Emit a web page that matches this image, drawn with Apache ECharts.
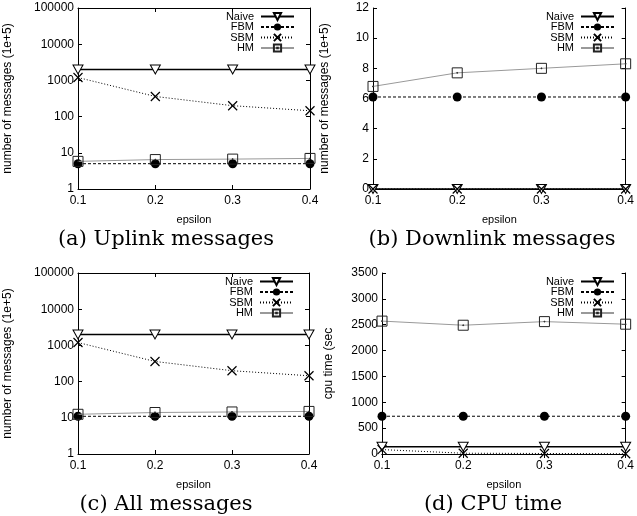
<!DOCTYPE html>
<html>
<head>
<meta charset="utf-8">
<script src="https://cdn.jsdelivr.net/npm/echarts@6/dist/echarts.min.js"></script>
<style>
  html, body { margin: 0; padding: 0; background: #fff; }
  #chart { width: 637px; height: 516px; }
</style>
</head>
<body>
<div id="chart"></div>
<script>
// x categories (epsilon)
const epsilon = ['0.1', '0.2', '0.3', '0.4'];
const seriesNames = ['Naive', 'FBM', 'SBM', 'HM'];

// (a) uplink messages (1e+5)
const upNaive = [2000, 2000, 2000, 2000];
const upFBM = [5, 5, 5, 5];
const upSBM = [1200, 360, 200, 145];
const upHM = [5.8, 6.5, 6.7, 7.0];

// (b) downlink messages (1e+5)
const downNaive = [0, 0, 0, 0];
const downFBM = [6.1, 6.1, 6.1, 6.1];
const downSBM = [0, 0, 0, 0];
const downHM = [6.8, 7.7, 8.0, 8.3];

// (c) all messages (1e+5)
const allNaive = [2000, 2000, 2000, 2000];
const allFBM = [11, 11, 11, 11];
const allSBM = [1200, 360, 200, 145];
const allHM = [12.5, 14, 14.5, 15];

// (d) cpu time (sec)
const cpuNaive = [140, 140, 140, 140];
const cpuFBM = [730, 730, 730, 730];
const cpuSBM = [85, 15, 10, 5];
const cpuHM = [2570, 2490, 2560, 2510];

const captions = ['(a) Uplink messages', '(b) Downlink messages', '(c) All messages', '(d) CPU time'];

const chart = echarts.init(document.getElementById('chart'));

// plot boxes
const grids = [
  { left: 78, top: 8, width: 232, height: 181 },
  { left: 373, top: 8, width: 257, height: 181 },
  { left: 78, top: 273, width: 231, height: 181 },
  { left: 382, top: 273, width: 248, height: 181 }
];
const captionX = [166, 492, 166, 493];

const yCfg = [
  { type: 'log', min: 1, max: 100000, name: 'number of messages (1e+5)', gap: 64 },
  { type: 'value', min: 0, max: 12, interval: 2, name: 'number of messages (1e+5)', gap: 42 },
  { type: 'log', min: 1, max: 100000, name: 'number of messages (1e+5)', gap: 64 },
  { type: 'value', min: 0, max: 3500, interval: 500, name: 'cpu time (sec', gap: 47 }
];

const panelData = [
  [upNaive, upFBM, upSBM, upHM],
  [downNaive, downFBM, downSBM, downHM],
  [allNaive, allFBM, allSBM, allHM],
  [cpuNaive, cpuFBM, cpuSBM, cpuHM]
];

const font = 'Liberation Sans, Arial, sans-serif';

// marker + line look per series
const looks = {
  Naive: {
    symbol: 'path://M0,0H10L5,9Z', symbolSize: [10, 9],
    itemStyle: { color: '#fff', borderColor: '#000', borderWidth: 1 },
    lineStyle: { color: '#000', width: 1.5, type: 'solid' }
  },
  FBM: {
    symbol: 'circle', symbolSize: 9,
    itemStyle: { color: '#000' },
    lineStyle: { color: '#000', width: 1, type: [3, 2] }
  },
  SBM: {
    symbol: 'path://M0,0L10,10M10,0L0,10', symbolSize: 9,
    itemStyle: { color: 'transparent', borderColor: '#000', borderWidth: 1.2 },
    lineStyle: { color: '#000', width: 1, type: [1, 2] }
  },
  HM: {
    symbol: 'path://M0,0H10V10H0Z M4.6,4.6H5.4V5.4H4.6Z', symbolSize: 10,
    itemStyle: { color: 'transparent', borderColor: '#222', borderWidth: 1 },
    lineStyle: { color: '#999', width: 1, type: 'solid' }
  }
};

const xAxis = [], yAxis = [], series = [], legend = [], title = [];

grids.forEach((g, i) => {
  xAxis.push({
    type: 'category', data: epsilon, gridIndex: i, boundaryGap: false,
    name: 'epsilon', nameLocation: 'middle', nameGap: 25,
    nameTextStyle: { fontFamily: font, fontSize: 11, color: '#000' },
    axisLine: { lineStyle: { color: '#000', width: 1 } },
    axisTick: { inside: true, length: 4, lineStyle: { color: '#000' } },
    axisLabel: { fontFamily: font, fontSize: 12, color: '#000', margin: 6 },
    splitLine: { show: false }
  });
  const y = yCfg[i];
  yAxis.push({
    type: y.type, min: y.min, max: y.max, interval: y.interval, gridIndex: i,
    logBase: 10,
    name: y.name, nameLocation: 'middle', nameGap: y.gap,
    nameTextStyle: { fontFamily: font, fontSize: 12, color: '#000' },
    axisLine: { show: true, lineStyle: { color: '#000', width: 1 } },
    axisTick: { show: true, inside: true, length: 4, lineStyle: { color: '#000' } },
    axisLabel: { fontFamily: font, fontSize: 12, color: '#000', margin: 4, formatter: v => String(v) },
    splitLine: { show: false }
  });

  seriesNames.forEach((name, k) => {
    const lk = looks[name];
    series.push({
      name: name, type: 'line', xAxisIndex: i, yAxisIndex: i,
      data: panelData[i][k],
      symbol: lk.symbol, symbolSize: lk.symbolSize,
      showAllSymbol: true, animation: false, z: 3 + k,
      itemStyle: lk.itemStyle, lineStyle: lk.lineStyle
    });
  });

  legend.push({
    data: seriesNames, orient: 'vertical', align: 'right',
    right: 637 - (g.left + g.width) + 15, top: g.top + 3, padding: 0,
    itemWidth: 33, itemHeight: 9, itemGap: -0.5,
    selectedMode: false,
    textStyle: { fontFamily: font, fontSize: 11, color: '#000', padding: [0, 2, 0, 0] }
  });

  title.push({
    text: captions[i], left: captionX[i], top: g.top + g.height + 40,
    textAlign: 'center', padding: 0,
    textStyle: { fontFamily: 'DejaVu Serif, serif', fontSize: 21, fontWeight: 'normal', color: '#000' }
  });
});

// mirrored tick marks on top and right borders
grids.forEach((g, i) => {
  xAxis.push({
    type: 'category', data: epsilon, gridIndex: i, boundaryGap: false, position: 'top',
    axisLine: { lineStyle: { color: '#000' } },
    axisTick: { inside: true, length: 4, lineStyle: { color: '#000' } },
    axisLabel: { show: false }, splitLine: { show: false }
  });
  const y = yCfg[i];
  yAxis.push({
    type: y.type, min: y.min, max: y.max, interval: y.interval, gridIndex: i, logBase: 10,
    position: 'right',
    axisLine: { show: true, lineStyle: { color: '#000' } },
    axisTick: { show: true, inside: true, length: 4, lineStyle: { color: '#000' } },
    axisLabel: { show: false }, splitLine: { show: false }
  });
});

chart.setOption({
  animation: false,
  grid: grids.map(g => Object.assign({ containLabel: false, show: false }, g)),
  title: title,
  legend: legend,
  xAxis: xAxis,
  yAxis: yAxis,
  series: series
});
</script>
</body>
</html>
